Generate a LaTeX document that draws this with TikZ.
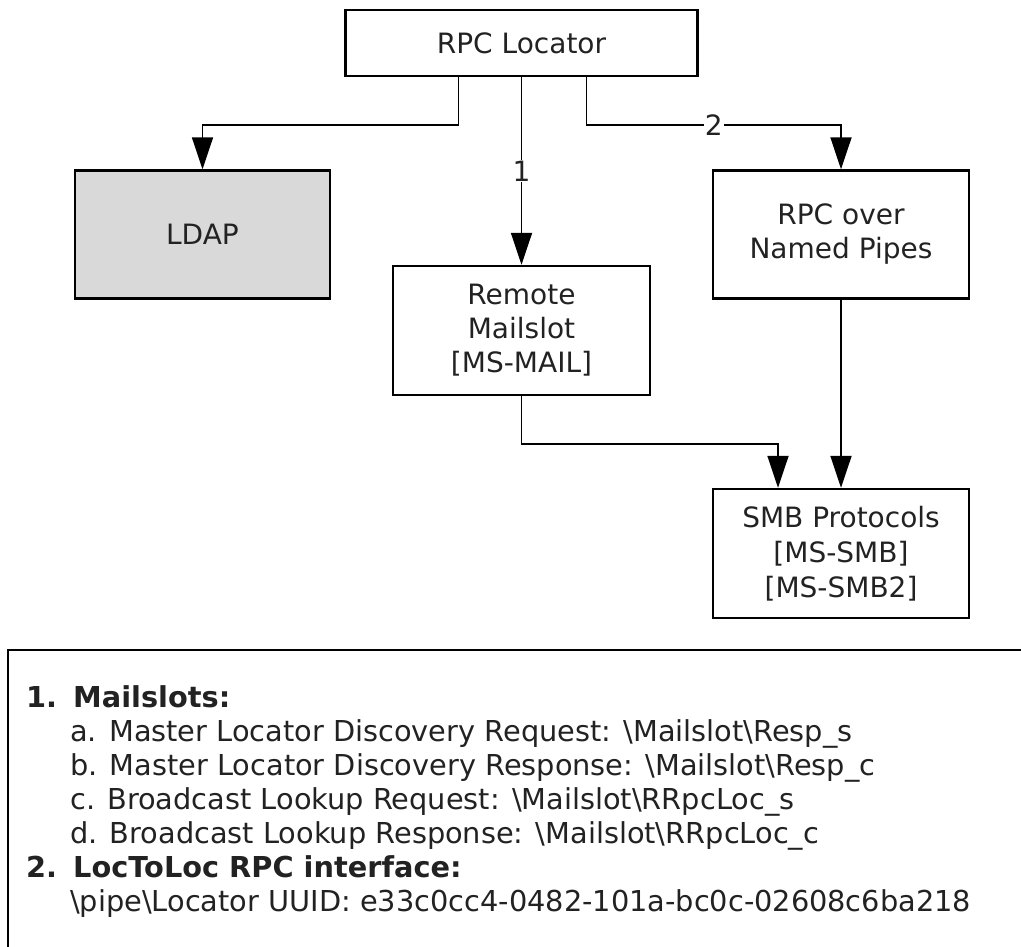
\documentclass[tikz,border=0pt]{standalone}
\usepackage{fontspec}
\setmainfont{DejaVu Sans}
\usetikzlibrary{arrows.meta}
\definecolor{ldapgray}{HTML}{D9D9D9}
\definecolor{txt}{HTML}{222222}
\tikzset{
  box/.style={draw=black, line width=2.4pt, rectangle, align=center, text=txt,
    font=\fontsize{28}{34}\selectfont, inner sep=0pt},
  arr/.style={draw=black, line width=1.8pt,
    -{Triangle[length=32pt,width=21pt]}},
  lbl/.style={fill=white, inner sep=1pt, text=txt, font=\fontsize{28}{30}\selectfont},
  ln/.style={anchor=base west, inner sep=0pt, text=txt, font=\fontsize{28.8}{30}\selectfont},
}
\begin{document}
\begin{tikzpicture}[x=1pt,y=-1pt]
\useasboundingbox (0,0) rectangle (1021,947);
\node[box, minimum width=352pt, minimum height=66pt] (loc) at (521.5,43) {RPC Locator};
\node[box, fill=ldapgray, minimum width=255pt, minimum height=128pt] (ldap) at (202.5,234.5) {LDAP};
\node[box, minimum width=256pt, minimum height=128pt] (pipes) at (841,234.5) {RPC over\\Named Pipes};
\node[box, minimum width=257pt, minimum height=129pt] (mail) at (521.5,330.5) {Remote\\Mailslot\\{[MS-MAIL]}};
\node[box, minimum width=256pt, minimum height=129pt, font=\fontsize{28}{35}\selectfont] (smb) at (841,553.5) {SMB Protocols\\{[MS-SMB]}\\{[MS-SMB2]}};

\draw[arr] ([xshift=-63pt]loc.south) -- ++(0,48) -| (ldap.north);
\draw[arr] (loc.south) -- node[lbl] {1} (mail.north);
\draw[arr] ([xshift=65pt]loc.south) -- ++(0,48) -| node[lbl, pos=0.25] {2} (pipes.north);
\draw[arr] (mail.south) -- ++(0,48) -| ([xshift=-63pt]smb.north);
\draw[arr] (pipes.south) -- (smb.north);

\coordinate (bl) at (8,947);
\coordinate (tl) at (8,650);
\coordinate (tr) at (1021,650);
\draw[line width=2.4pt] (bl) -- (tl) -- (tr);

\node[ln] (n1) at (26,707) {\textbf{1.}};
\node[ln] (t1) at (73,707) {\textbf{Mailslots:}};
\node[ln] (t2) at (70,741) {a. Master Locator Discovery Request: \textbackslash Mailslot\textbackslash Resp\_s};
\node[ln] (t3) at (70,775) {b. Master Locator Discovery Response: \textbackslash Mailslot\textbackslash Resp\_c};
\node[ln] (t4) at (70,809) {c. Broadcast Lookup Request: \textbackslash Mailslot\textbackslash RRpcLoc\_s};
\node[ln] (t5) at (70,843) {d. Broadcast Lookup Response: \textbackslash Mailslot\textbackslash RRpcLoc\_c};
\node[ln] (n2) at (26,877) {\textbf{2.}};
\node[ln] (t6) at (73,877) {\textbf{LocToLoc RPC interface:}};
\node[ln] (t7) at (70,911) {\textbackslash pipe\textbackslash Locator UUID: e33c0cc4-0482-101a-bc0c-02608c6ba218};
\end{tikzpicture}
\end{document}
